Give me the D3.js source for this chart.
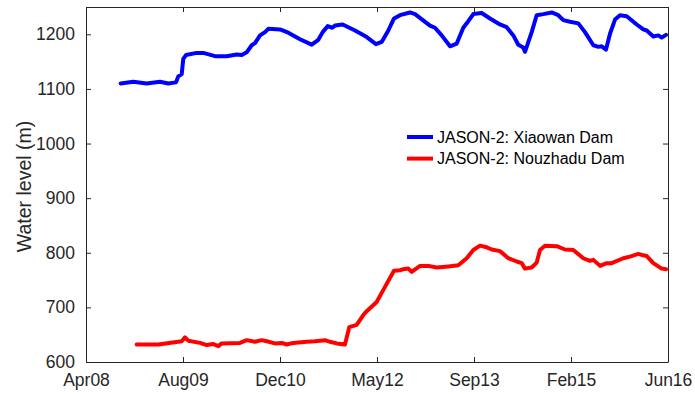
<!DOCTYPE html>
<html>
<head>
<meta charset="utf-8">
<script src="https://cdn.jsdelivr.net/npm/d3@7"></script>
<style>
  html, body { margin: 0; padding: 0; background: #fff; }
  svg { display: block; font-family: "Liberation Sans", Arial, Helvetica, sans-serif; }
</style>
</head>
<body>
<svg id="chart" width="695" height="394"></svg>
<script>
// ---------- data (decimal year, water level in m) ----------
const xiaowanYears = [2008.737,2008.914,2009.102,2009.288,2009.405,2009.513,2009.545,2009.593,2009.615,2009.653,2009.803,2009.896,2010.060,2010.224,2010.365,2010.435,2010.505,2010.575,2010.621,2010.692,2010.762,2010.808,2010.972,2011.089,2011.253,2011.417,2011.510,2011.571,2011.642,2011.706,2011.744,2011.852,2012.025,2012.189,2012.319,2012.399,2012.492,2012.572,2012.656,2012.796,2012.867,2013.077,2013.147,2013.241,2013.358,2013.452,2013.544,2013.614,2013.685,2013.802,2013.919,2014.059,2014.153,2014.246,2014.316,2014.386,2014.410,2014.504,2014.574,2014.667,2014.785,2014.877,2014.948,2015.042,2015.158,2015.252,2015.369,2015.439,2015.486,2015.547,2015.603,2015.673,2015.743,2015.837,2015.978,2016.070,2016.118,2016.211,2016.281,2016.328,2016.389];
const xiaowanLevels = [1110,1113,1110,1113,1110,1112,1123,1127,1155,1162,1166,1166,1160,1160,1163,1162,1167,1180,1184,1198,1204,1210,1209,1203,1191,1181,1190,1204,1215,1212,1216,1218,1207,1195,1182,1186,1207,1229,1235,1240,1237,1216,1212,1198,1178,1183,1212,1224,1237,1239,1229,1218,1213,1198,1181,1176,1168,1204,1235,1237,1240,1235,1226,1223,1220,1204,1180,1177,1178,1172,1201,1227,1235,1233,1218,1209,1207,1196,1198,1194,1199];

const nouzhaduYears = [2008.961,2009.265,2009.593,2009.639,2009.685,2009.850,2009.944,2010.036,2010.106,2010.154,2010.411,2010.505,2010.621,2010.715,2010.786,2010.902,2010.996,2011.066,2011.159,2011.347,2011.463,2011.604,2011.674,2011.768,2011.884,2011.945,2012.048,2012.141,2012.189,2012.329,2012.422,2012.572,2012.656,2012.702,2012.773,2012.820,2012.937,2013.053,2013.171,2013.334,2013.474,2013.592,2013.685,2013.779,2013.873,2013.943,2014.059,2014.176,2014.294,2014.364,2014.410,2014.504,2014.574,2014.621,2014.691,2014.855,2014.971,2015.088,2015.228,2015.322,2015.369,2015.463,2015.557,2015.627,2015.790,2015.883,2016.000,2016.048,2016.118,2016.211,2016.328,2016.389];
const nouzhaduLevels = [632,632,638,645,639,635,631,633,629,634,635,640,637,640,638,634,635,632,635,637,638,640,637,634,632,664,668,686,693,710,732,767,768,770,771,765,776,776,773,775,777,790,805,813,810,806,803,790,784,781,771,773,782,805,813,812,806,805,790,785,787,776,781,781,790,793,798,796,794,781,771,770];

const seriesNames = ["JASON-2: Xiaowan Dam", "JASON-2: Nouzhadu Dam"];
const seriesColors = ["#0000ff", "#ff0000"];

const xDomain = [2008.25, 2016.4167];
const xTickLabels = ["Apr08", "Aug09", "Dec10", "May12", "Sep13", "Feb15", "Jun16"];
const yDomain = [600, 1250];
const yTickValues = [600, 700, 800, 900, 1000, 1100, 1200];
const yLabel = "Water level (m)";

// ---------- layout ----------
const svg = d3.select("#chart");
const L = 86, R = 668, T = 7, B = 362;
const axisColor = "#262626";
const tickFont = 17.5;

const x = d3.scaleLinear().domain(xDomain).range([L, R]);
const y = d3.scaleLinear().domain(yDomain).range([B, T]);

const xTickValues = xTickLabels.map((_, i) => xDomain[0] + i * (xDomain[1] - xDomain[0]) / (xTickLabels.length - 1));

// lines
const series = [
  xiaowanYears.map((t, i) => [t, xiaowanLevels[i]]),
  nouzhaduYears.map((t, i) => [t, nouzhaduLevels[i]])
];
const line = d3.line().x(d => x(d[0])).y(d => y(d[1]));
series.forEach((s, i) => {
  svg.append("path")
    .datum(s)
    .attr("d", line)
    .attr("fill", "none")
    .attr("stroke", seriesColors[i])
    .attr("stroke-width", 4)
    .attr("stroke-linejoin", "round")
    .attr("stroke-linecap", "round");
});

// axes
function styleAxis(g) {
  g.selectAll("path.domain").attr("stroke", axisColor).attr("stroke-width", 1);
  g.selectAll(".tick line").attr("stroke", axisColor).attr("stroke-width", 1);
  g.selectAll(".tick text").attr("fill", axisColor)
    .style("font-size", tickFont + "px")
    .style("font-family", "'Liberation Sans', Arial, Helvetica, sans-serif");
}
const xAxisB = d3.axisBottom(x).tickValues(xTickValues)
  .tickFormat((d, i) => xTickLabels[i]).tickSizeInner(-5).tickSizeOuter(0).tickPadding(12);
svg.append("g").attr("transform", `translate(0,${B})`).call(xAxisB).call(styleAxis);

const xAxisT = d3.axisTop(x).tickValues(xTickValues).tickFormat("")
  .tickSizeInner(-5).tickSizeOuter(0);
svg.append("g").attr("transform", `translate(0,${T})`).call(xAxisT).call(styleAxis);

const yAxisL = d3.axisLeft(y).tickValues(yTickValues).tickFormat(d3.format("d"))
  .tickSizeInner(-5).tickSizeOuter(0).tickPadding(11);
svg.append("g").attr("transform", `translate(${L},0)`).call(yAxisL).call(styleAxis);

const yAxisR = d3.axisRight(y).tickValues(yTickValues).tickFormat("")
  .tickSizeInner(-5).tickSizeOuter(0);
svg.append("g").attr("transform", `translate(${R},0)`).call(yAxisR).call(styleAxis);

// y label
svg.append("text")
  .attr("transform", `translate(31,${(T + B) / 2 + 2}) rotate(-90)`)
  .attr("text-anchor", "middle")
  .attr("fill", axisColor)
  .style("font-size", "19.5px")
  .text(yLabel);

// legend
const legX = 407, legY0 = 137, legDy = 21.6;
seriesNames.forEach((name, i) => {
  const yy = legY0 + i * legDy;
  svg.append("line")
    .attr("x1", legX).attr("x2", legX + 26)
    .attr("y1", yy).attr("y2", yy)
    .attr("stroke", seriesColors[i]).attr("stroke-width", 4);
  svg.append("text")
    .attr("x", legX + 30).attr("y", yy)
    .attr("dy", "0.35em")
    .attr("fill", "#000")
    .style("font-size", "16px")
    .text(name);
});
</script>
</body>
</html>
